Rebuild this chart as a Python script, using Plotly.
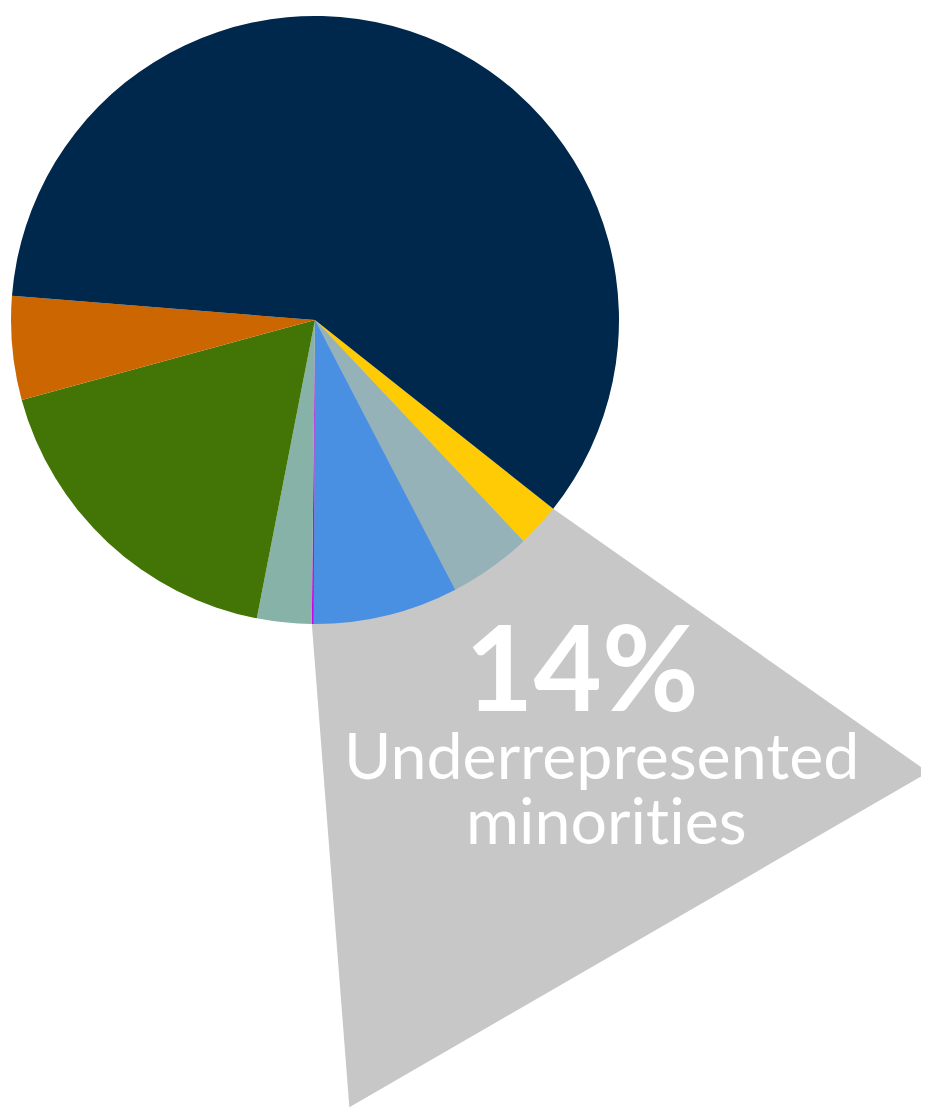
import math
import plotly.graph_objects as go

# ---------------- data ----------------
categories = ["Native American / Pacific Islander", "Black", "Hispanic", "Hawaiian",
              "Two or more", "Asian", "International", "White"]
# order: clockwise, starting at the first under-represented slice
shares = [2.3, 4.4, 7.7, 0.1, 2.9, 17.7, 5.5, 59.4]
slice_colors = ["#FFCB05", "#95B2B8", "#4A90E2", "#D000E8",
                "#86B2A7", "#427505", "#CC6600", "#00274C"]
urm_count = 4            # first four slices make up the highlighted group
urm_label = "14%"
urm_text = ["Underrepresented", "minorit\u200cies"]

# ---------------- layout constants (pixels, page offset 8px) ----------------
OFF = 8
W, H = 929 - OFF, 1112 - OFF
CX, CY, R = 315 - OFF, 320 - OFF, 304          # pie centre and radius
START_ANGLE = 128.4                # clockwise from 12 o'clock
CALLOUT_COLOR = "#C7C7C7"
# callout outer corners: (angle offset from slice edge, radius in pie radii)
OUT1 = (-2.0, 2.507)
OUT2 = (-3.1, 2.592)

fig = go.Figure()

# axes in units of pie radius, origin at pie centre
xr = [(0 - CX) / R, (W - CX) / R]
yr = [(CY - H) / R, (CY - 0) / R]


def pt(angle_deg, rad):
    a = math.radians(angle_deg)
    return rad * math.sin(a), rad * math.cos(a)


total = sum(shares)
a0 = START_ANGLE
a1 = START_ANGLE + 360 * sum(shares[:urm_count]) / total
p_start = pt(a0, 1.0)
p_end = pt(a1, 1.0)
o1 = pt(a0 + OUT1[0], OUT1[1])
o2 = pt(a1 + OUT2[0], OUT2[1])
poly = [(0, 0), p_start, o1, o2, p_end, (0, 0)]

fig.add_trace(go.Scatter(
    x=[p[0] for p in poly], y=[p[1] for p in poly],
    mode="lines", fill="toself", fillcolor=CALLOUT_COLOR,
    line=dict(width=0, color=CALLOUT_COLOR), hoverinfo="skip",
    showlegend=False,
))

fig.add_trace(go.Pie(
    labels=categories, values=shares, sort=False,
    direction="clockwise", rotation=START_ANGLE,
    marker=dict(colors=slice_colors, line=dict(width=0)),
    textinfo="none", hoverinfo="skip", showlegend=False,
    domain=dict(x=[(CX - R) / W, (CX + R) / W],
                y=[(H - CY - R) / H, (H - CY + R) / H]),
))


def ann(text, px, py, size, bold=False):
    px -= OFF
    py -= OFF
    fig.add_annotation(
        text=f"<b>{text}</b>" if bold else text,
        x=px / W, y=1 - py / H, xref="paper", yref="paper",
        xanchor="center", yanchor="middle", showarrow=False,
        font=dict(family="Lato", size=size, color="white"),
    )


ann(urm_label, 582, 711 - 0.387 * 118, 118, bold=True)
ann(urm_text[0], 601, 779 - 0.387 * 64.5, 64.5)
ann(urm_text[1], 606, 844 - 0.387 * 64.5, 64.5)

fig.update_layout(
    width=W, height=H, margin=dict(l=0, r=0, t=0, b=0),
    paper_bgcolor="white", plot_bgcolor="rgba(0,0,0,0)",
    xaxis=dict(range=xr, visible=False, domain=[0, 1], fixedrange=True),
    yaxis=dict(range=yr, visible=False, domain=[0, 1], fixedrange=True),
)

fig.write_html("out.html")
